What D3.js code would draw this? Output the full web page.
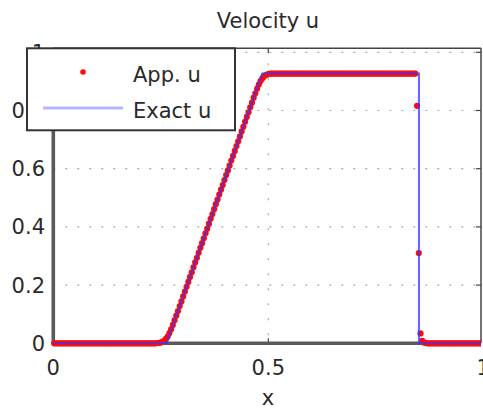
<!DOCTYPE html>
<html>
<head>
<meta charset="utf-8">
<script src="https://cdn.jsdelivr.net/npm/d3@7"></script>
<style>
  html, body { margin: 0; padding: 0; background: #fff; }
  svg { display: block; font-family: "DejaVu Sans", sans-serif; }
</style>
</head>
<body>
<svg id="chart" width="483" height="409"></svg>
<script>
// ── data ───────────────────────────────────────────────────
const xTicks = [0, 0.5, 1];
const xTickLabels = ['0', '0.5', '1'];
const yTicks = [0, 0.2, 0.4, 0.6, 0.8, 1];
const yTickLabels = ['0', '0.2', '0.4', '0.6', '0.8', '1'];

// exact solution, piecewise linear breakpoints
const exactX = [0, 0.2634, 0.4859, 0.8504, 0.8504, 1];
const exactU = [0, 0, 0.9274, 0.9274, 0, 0];

// approximate solution, one dot per cell
const appX = [
  .002,.006,.010,.014,.018,.022,.026,.030,.034,.038,
  .042,.046,.050,.054,.058,.062,.066,.070,.074,.078,
  .082,.086,.090,.094,.098,.102,.106,.110,.114,.118,
  .122,.126,.130,.134,.138,.142,.146,.150,.154,.158,
  .162,.166,.170,.174,.178,.182,.186,.190,.194,.198,
  .202,.206,.210,.214,.218,.222,.226,.230,.234,.238,
  .242,.246,.250,.254,.258,.262,.266,.270,.274,.278,
  .282,.286,.290,.294,.298,.302,.306,.310,.314,.318,
  .322,.326,.330,.334,.338,.342,.346,.350,.354,.358,
  .362,.366,.370,.374,.378,.382,.386,.390,.394,.398,
  .402,.406,.410,.414,.418,.422,.426,.430,.434,.438,
  .442,.446,.450,.454,.458,.462,.466,.470,.474,.478,
  .482,.486,.490,.494,.498,.502,.506,.510,.514,.518,
  .522,.526,.530,.534,.538,.542,.546,.550,.554,.558,
  .562,.566,.570,.574,.578,.582,.586,.590,.594,.598,
  .602,.606,.610,.614,.618,.622,.626,.630,.634,.638,
  .642,.646,.650,.654,.658,.662,.666,.670,.674,.678,
  .682,.686,.690,.694,.698,.702,.706,.710,.714,.718,
  .722,.726,.730,.734,.738,.742,.746,.750,.754,.758,
  .762,.766,.770,.774,.778,.782,.786,.790,.794,.798,
  .802,.806,.810,.814,.818,.822,.826,.830,.834,.838,
  .842,.846,.850,.854,.858,.862,.866,.870,.874,.878,
  .882,.886,.890,.894,.898,.902,.906,.910,.914,.918,
  .922,.926,.930,.934,.938,.942,.946,.950,.954,.958,
  .962,.966,.970,.974,.978,.982,.986,.990,.994,.998
];
const appU = [
  0,0,0,0,0,0,0,0,0,0,
  0,0,0,0,0,0,0,0,0,0,
  0,0,0,0,0,0,0,0,0,0,
  0,0,0,0,0,0,0,0,0,0,
  0,0,0,0,0,0,0,0,0,0,
  0,0,0,0,0,0,0,0,0,0,
  .001,.001,.003,.005,.009,.015,.023,.035,.048,.063,
  .079,.095,.111,.128,.144,.161,.178,.194,.211,.228,
  .244,.261,.278,.294,.311,.328,.344,.361,.378,.394,
  .411,.428,.444,.461,.478,.494,.511,.528,.544,.561,
  .578,.594,.611,.628,.644,.661,.678,.694,.711,.728,
  .744,.761,.778,.794,.811,.827,.844,.859,.875,.889,
  .901,.910,.917,.922,.924,.926,.927,.927,.927,.927,
  .927,.927,.927,.927,.927,.927,.927,.927,.927,.927,
  .927,.927,.927,.927,.927,.927,.927,.927,.927,.927,
  .927,.927,.927,.927,.927,.927,.927,.927,.927,.927,
  .927,.927,.927,.927,.927,.927,.927,.927,.927,.927,
  .927,.927,.927,.927,.927,.927,.927,.927,.927,.927,
  .927,.927,.927,.927,.927,.927,.927,.927,.927,.927,
  .927,.927,.927,.927,.927,.927,.927,.927,.927,.927,
  .927,.927,.927,.927,.927,.927,.927,.927,.927,.927,
  .927,.816,.310,.034,.008,.003,.001,0,0,0,
  0,0,0,0,0,0,0,0,0,0,
  0,0,0,0,0,0,0,0,0,0,
  0,0,0,0,0,0,0,0,0,0
];

// ── layout ────────────────────────────────────────────────
const svg = d3.select('#chart');
const pLeft = 53.3, pRight = 481, pTop = 48.3, pBottom = 343.3;
const x = d3.scaleLinear().domain([0, 1]).range([pLeft, 483.3]);
const y = d3.scaleLinear().domain([0, 1]).range([pBottom, 52.3]);
const textCol = '#2a2a2a';

svg.append('defs').append('clipPath').attr('id', 'plot-clip')
  .append('rect').attr('x', 0).attr('y', 0).attr('width', pRight).attr('height', 409);

// dotted grid
const grid = svg.append('g').attr('stroke', '#a8a8a8').attr('stroke-width', 1.2);
grid.selectAll('.gy').data(yTicks.filter(d => d > 0)).join('line')
  .attr('x1', pLeft).attr('x2', pRight)
  .attr('y1', d => y(d)).attr('y2', d => y(d))
  .attr('stroke-dasharray', '2,10');
grid.selectAll('.gx').data(xTicks.filter(d => d > 0 && d < 1)).join('line')
  .attr('x1', d => x(d)).attr('x2', d => x(d))
  .attr('y1', pTop).attr('y2', pBottom)
  .attr('stroke-dasharray', '2,13');

// frame: thin top/right, thick left/bottom
svg.append('line').attr('x1', pLeft).attr('x2', pRight).attr('y1', pTop).attr('y2', pTop)
  .attr('stroke', '#444').attr('stroke-width', 1.5);
svg.append('line').attr('x1', pRight).attr('x2', pRight).attr('y1', pTop).attr('y2', pBottom)
  .attr('stroke', '#444').attr('stroke-width', 1.5);

// small inward ticks on right, top and bottom
svg.append('g').selectAll('line').data(yTicks).join('line')
  .attr('x1', pRight - 5).attr('x2', pRight)
  .attr('y1', d => y(d)).attr('y2', d => y(d))
  .attr('stroke', '#444').attr('stroke-width', 1.2);
svg.append('g').selectAll('line').data(xTicks.filter(d => d < 1)).join('line')
  .attr('x1', d => x(d)).attr('x2', d => x(d))
  .attr('y1', pTop).attr('y2', pTop + 5)
  .attr('stroke', '#444').attr('stroke-width', 1.2);
svg.append('g').selectAll('line').data(xTicks.filter(d => d < 1)).join('line')
  .attr('x1', d => x(d)).attr('x2', d => x(d))
  .attr('y1', pBottom - 5).attr('y2', pBottom)
  .attr('stroke', '#444').attr('stroke-width', 1.2);

svg.append('line').attr('x1', pLeft).attr('x2', pRight).attr('y1', pBottom).attr('y2', pBottom)
  .attr('stroke', '#5a5a5a').attr('stroke-width', 3.6);
svg.append('line').attr('x1', pLeft).attr('x2', pLeft).attr('y1', pTop).attr('y2', pBottom + 1.8)
  .attr('stroke', '#5a5a5a').attr('stroke-width', 3.6);

// tick labels
svg.append('g').selectAll('text').data(yTicks).join('text')
  .attr('x', 45).attr('y', d => y(d)).attr('dy', '0.36em')
  .attr('text-anchor', 'end').attr('font-size', 21).attr('fill', textCol)
  .text((d, i) => yTickLabels[i]);
svg.append('g').selectAll('text').data(xTicks).join('text')
  .attr('x', d => x(d)).attr('y', 375)
  .attr('text-anchor', 'middle').attr('font-size', 21).attr('fill', textCol)
  .text((d, i) => xTickLabels[i]);

svg.append('text').attr('x', 268).attr('y', 405).attr('text-anchor', 'middle')
  .attr('font-size', 21).attr('fill', textCol).text('x');
svg.append('text').attr('x', 268).attr('y', 28).attr('text-anchor', 'middle')
  .attr('font-size', 21).attr('fill', textCol).text('Velocity u');

// data
const plot = svg.append('g').attr('clip-path', 'url(#plot-clip)');
plot.selectAll('.dot').data(appX).join('circle')
  .attr('class', 'dot')
  .attr('cx', d => x(d)).attr('cy', (d, i) => y(appU[i]))
  .attr('r', 3.1).attr('fill', '#ff0a0a');

const line = d3.line().x(d => x(d[0])).y(d => y(d[1]));
plot.append('path')
  .datum(exactX.map((d, i) => [d, exactU[i]]))
  .attr('d', line)
  .attr('fill', 'none').attr('stroke', '#3535ff')
  .attr('stroke-opacity', 0.75).attr('stroke-width', 2.1);

// legend
const lg = svg.append('g');
lg.append('rect').attr('x', 27).attr('y', 48.3).attr('width', 208).attr('height', 82)
  .attr('fill', '#fff').attr('stroke', '#333').attr('stroke-width', 2);
lg.append('circle').attr('cx', 83).attr('cy', 72).attr('r', 2.8).attr('fill', '#ff0a0a');
lg.append('text').attr('x', 133).attr('y', 82).attr('font-size', 21).attr('fill', textCol).text('App. u');
lg.append('line').attr('x1', 43).attr('x2', 123).attr('y1', 108).attr('y2', 108)
  .attr('stroke', '#3c3cff').attr('stroke-opacity', 0.38).attr('stroke-width', 3);
lg.append('text').attr('x', 133).attr('y', 118).attr('font-size', 21).attr('fill', textCol).text('Exact u');
</script>
</body>
</html>
